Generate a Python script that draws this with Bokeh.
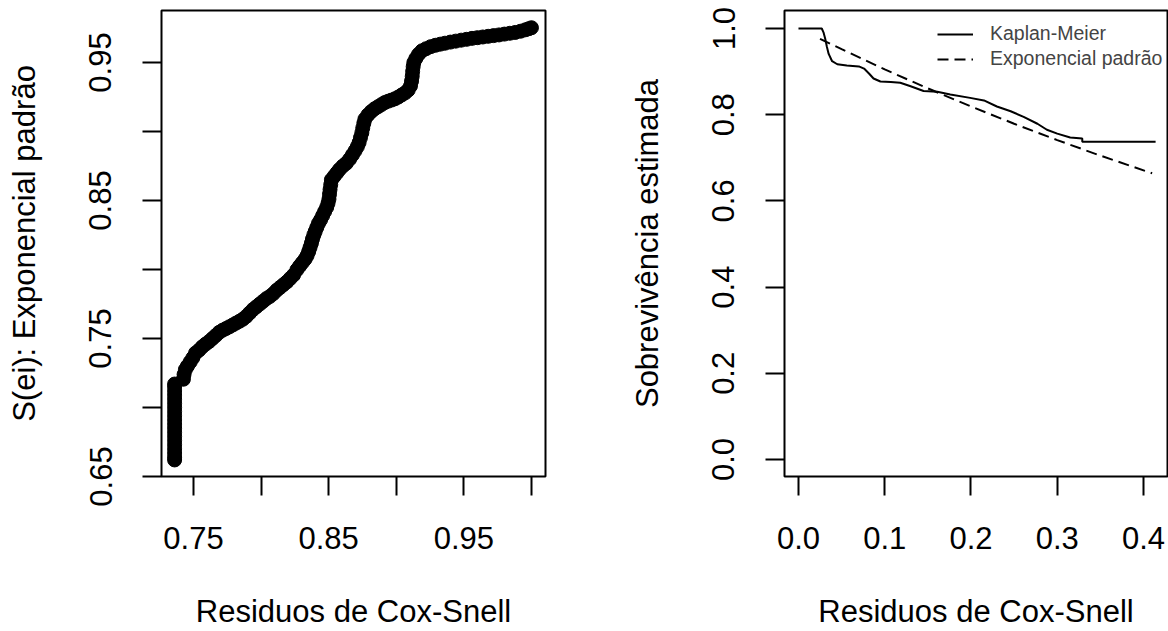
from bokeh.plotting import figure
from bokeh.layouts import row
from bokeh.models import Range1d, FixedTicker, PrintfTickFormatter, Legend, LegendItem
from bokeh.embed import file_html
from bokeh.resources import INLINE

# ---------------- data ----------------
# Left panel: S(ei) Kaplan-Meier (x) vs S(ei) Exponencial padrão (y)
km_s = [0.736, 0.736, 0.736, 0.736, 0.736, 0.736, 0.736, 0.736, 0.736, 0.736,
        0.736, 0.736, 0.736, 0.736, 0.736, 0.736, 0.736, 0.736, 0.736, 0.736,
        0.7425, 0.7430, 0.7440, 0.7455, 0.7475, 0.7495, 0.7515, 0.7540, 0.7565, 0.7590,
        0.7615, 0.7640, 0.7665, 0.7690, 0.7715, 0.7740, 0.7765, 0.7790, 0.7815, 0.7840,
        0.7865, 0.7890, 0.7915, 0.7940, 0.7965, 0.7990, 0.8015, 0.8040, 0.8065, 0.8090,
        0.8115, 0.8140, 0.8165, 0.8190, 0.8215, 0.8240, 0.8265, 0.8285, 0.8305, 0.8325,
        0.8340, 0.8352, 0.8362, 0.8372, 0.8380, 0.8390, 0.8400, 0.8412, 0.8425, 0.8440,
        0.8455, 0.8470, 0.8485, 0.8495, 0.8502, 0.8506, 0.8510, 0.8515, 0.8520, 0.8540,
        0.8560, 0.8580, 0.8605, 0.8630, 0.8655, 0.8675, 0.8695, 0.8712, 0.8725, 0.8735,
        0.8745, 0.8752, 0.8760, 0.8768, 0.8790, 0.8815, 0.8840, 0.8865, 0.8890, 0.8915,
        0.8940, 0.8965, 0.8990, 0.9015, 0.9040, 0.9065, 0.9088, 0.9105, 0.9113, 0.9118,
        0.9121, 0.9125, 0.9130, 0.9145, 0.9165, 0.9190, 0.9220, 0.9255, 0.9290, 0.9325,
        0.9360, 0.9400, 0.9440, 0.9480, 0.9520, 0.9560, 0.9600, 0.9640, 0.9680, 0.9720,
        0.9760, 0.9800, 0.9840, 0.9880, 0.9920, 0.9955, 0.9980, 1.0000]
exp_s = [0.662, 0.664, 0.667, 0.670, 0.673, 0.676, 0.679, 0.682, 0.685, 0.688,
         0.691, 0.694, 0.697, 0.700, 0.703, 0.706, 0.709, 0.712, 0.715, 0.717,
         0.7205, 0.7240, 0.7275, 0.7300, 0.7330, 0.7360, 0.7395, 0.7415, 0.7440, 0.7460,
         0.7478, 0.7500, 0.7522, 0.7545, 0.7560, 0.7572, 0.7585, 0.7598, 0.7612, 0.7625,
         0.7640, 0.7660, 0.7685, 0.7710, 0.7730, 0.7750, 0.7770, 0.7790, 0.7805, 0.7825,
         0.7850, 0.7870, 0.7890, 0.7910, 0.7935, 0.7960, 0.7998, 0.8025, 0.8050, 0.8075,
         0.8100, 0.8130, 0.8160, 0.8190, 0.8220, 0.8250, 0.8275, 0.8305, 0.8335, 0.8360,
         0.8390, 0.8420, 0.8450, 0.8480, 0.8510, 0.8545, 0.8580, 0.8615, 0.8650, 0.8675,
         0.8700, 0.8725, 0.8750, 0.8770, 0.8800, 0.8830, 0.8860, 0.8890, 0.8920, 0.8955,
         0.8990, 0.9025, 0.9060, 0.9090, 0.9120, 0.9145, 0.9165, 0.9180, 0.9195, 0.9210,
         0.9220, 0.9228, 0.9237, 0.9250, 0.9265, 0.9280, 0.9300, 0.9330, 0.9365, 0.9400,
         0.9435, 0.9470, 0.9500, 0.9530, 0.9560, 0.9585, 0.9600, 0.9615, 0.9625, 0.9633,
         0.9640, 0.9648, 0.9655, 0.9662, 0.9668, 0.9675, 0.9680, 0.9685, 0.9690, 0.9695,
         0.9700, 0.9706, 0.9712, 0.9718, 0.9727, 0.9737, 0.9745, 0.9752]

# Right panel: Kaplan-Meier curve of Cox-Snell residuals
km_t = [0.000, 0.027, 0.029, 0.031, 0.033, 0.035, 0.039, 0.045, 0.056, 0.070,
        0.076, 0.082, 0.087, 0.095, 0.107, 0.118, 0.130, 0.145, 0.161, 0.176,
        0.199, 0.215, 0.230, 0.246, 0.261, 0.277, 0.288, 0.300, 0.315, 0.329,
        0.329, 0.414]
km_y = [1.000, 1.000, 0.991, 0.976, 0.957, 0.941, 0.924, 0.917, 0.914, 0.912,
        0.907, 0.895, 0.884, 0.877, 0.876, 0.874, 0.866, 0.855, 0.853, 0.847,
        0.839, 0.833, 0.819, 0.808, 0.795, 0.779, 0.765, 0.756, 0.747, 0.745,
        0.737, 0.737]
# Exponencial padrão S(e)
ex_t = [0.025, 0.050, 0.100, 0.150, 0.200, 0.250, 0.300, 0.350, 0.410]
ex_y = [0.976, 0.952, 0.905, 0.861, 0.819, 0.779, 0.741, 0.705, 0.664]

left_x_major = [0.75, 0.85, 0.95]
left_x_minor = [0.80, 0.90, 1.00]
left_y_major = [0.65, 0.75, 0.85, 0.95]
left_y_minor = [0.70, 0.80, 0.90]
right_x_ticks = [0.0, 0.1, 0.2, 0.3, 0.4]
right_y_ticks = [0.0, 0.2, 0.4, 0.6, 0.8, 1.0]

FONT = "Liberation Sans"


def style(p, xlab, ylab):
    p.xgrid.visible = False
    p.ygrid.visible = False
    p.outline_line_color = "black"
    p.outline_line_width = 2
    p.outline_line_alpha = 1
    p.background_fill_color = "white"
    p.border_fill_color = "white"
    for ax in (p.xaxis[0], p.yaxis[0]):
        ax.axis_line_color = None
        ax.major_tick_line_color = "black"
        ax.major_tick_line_width = 2
        ax.major_tick_out = 19
        ax.major_tick_in = 0
        ax.minor_tick_line_color = "black"
        ax.minor_tick_line_width = 2
        ax.minor_tick_out = 19
        ax.minor_tick_in = 0
        ax.major_label_text_font = FONT
        ax.major_label_text_font_size = "31px"
        ax.major_label_text_color = "black"
        ax.axis_label_text_font = FONT
        ax.axis_label_text_font_size = "31px"
        ax.axis_label_text_font_style = "normal"
        ax.axis_label_text_color = "black"
    p.xaxis[0].axis_label = xlab
    p.yaxis[0].axis_label = ylab
    p.xaxis[0].major_label_standoff = 31
    p.xaxis[0].axis_label_standoff = 42
    p.yaxis[0].major_label_orientation = "vertical"
    p.yaxis[0].major_label_standoff = 31
    p.yaxis[0].axis_label_standoff = 45


# ---------------- left panel ----------------
p1 = figure(width=588, height=631, output_backend="svg", toolbar_location=None,
            x_range=Range1d(0.7263, 1.0104), y_range=Range1d(0.6500, 0.9877),
            min_border_left=161, min_border_right=43, min_border_top=10, min_border_bottom=154)
p1.scatter(km_s, exp_s, size=14, color="black", marker="circle")
style(p1, "Residuos de Cox-Snell", "S(ei): Exponencial padrão")
p1.xaxis[0].ticker = FixedTicker(ticks=left_x_major, minor_ticks=left_x_minor)
p1.yaxis[0].ticker = FixedTicker(ticks=left_y_major, minor_ticks=left_y_minor)
p1.xaxis[0].formatter = PrintfTickFormatter(format="%.2f")
p1.yaxis[0].formatter = PrintfTickFormatter(format="%.2f")

# ---------------- right panel ----------------
p2 = figure(width=580, height=631, output_backend="svg", toolbar_location=None,
            x_range=Range1d(-0.0162, 0.4278), y_range=Range1d(-0.0394, 1.0417),
            min_border_left=196, min_border_right=1, min_border_top=10, min_border_bottom=154)
r_km = p2.line(km_t, km_y, line_color="black", line_width=2)
r_ex = p2.line(ex_t, ex_y, line_color="black", line_width=2, line_dash="11 6")
style(p2, "Residuos de Cox-Snell", "Sobrevivência estimada")
p2.xaxis[0].ticker = FixedTicker(ticks=right_x_ticks)
p2.yaxis[0].ticker = FixedTicker(ticks=right_y_ticks)
p2.xaxis[0].formatter = PrintfTickFormatter(format="%.1f")
p2.yaxis[0].formatter = PrintfTickFormatter(format="%.1f")

legend = Legend(items=[LegendItem(label="Kaplan-Meier", renderers=[r_km]),
                       LegendItem(label="Exponencial padrão", renderers=[r_ex])],
                location=(153, 406), orientation="vertical",
                glyph_width=36, glyph_height=20, label_height=20, spacing=2,
                label_standoff=17, padding=0, margin=0,
                label_text_font=FONT, label_text_font_size="19.5px",
                border_line_color=None, background_fill_alpha=0)
p2.add_layout(legend)

layout = row(p1, p2)
open("out.html", "w").write(file_html(layout, INLINE))
